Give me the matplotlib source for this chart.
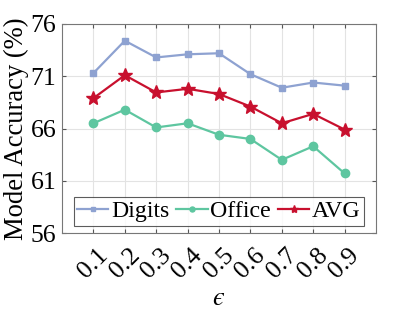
import matplotlib
matplotlib.use("Agg")
import matplotlib.pyplot as plt

plt.rcParams['font.family'] = ['Liberation Serif', 'DejaVu Serif']
plt.rcParams['mathtext.fontset'] = 'stix'

eps = [0.1, 0.2, 0.3, 0.4, 0.5, 0.6, 0.7, 0.8, 0.9]
tick_labels = ['0.1', '0.2', '0.3', '0.4', '0.5', '0.6', '0.7', '0.8', '0.9']
digits = [71.3, 74.4, 72.8, 73.1, 73.2, 71.2, 69.9, 70.4, 70.1]
office = [66.5, 67.8, 66.1, 66.5, 65.4, 65.0, 63.0, 64.3, 61.7]
avg = [68.9, 71.1, 69.45, 69.8, 69.3, 68.1, 66.5, 67.4, 65.9]
yticks = [56, 61, 66, 71, 76]

fig = plt.figure(figsize=(4.15, 3.12), dpi=100)
ax = fig.add_axes([62/415, 1-233/312, (376-62)/415, (233-24)/312])

ax.plot(eps, digits, color='#8ea2d1', marker='s', markersize=5, linewidth=1.6, label='Digits')
ax.plot(eps, office, color='#5ec6a0', marker='o', markersize=6, linewidth=1.6, label='Office')
ax.plot(eps, avg, color='#c8102e', marker='*', markersize=10, linewidth=1.6, label='AVG')

ax.set_xlim(0, 1.0)
ax.set_ylim(56, 76)
ax.set_xticks(eps)
ax.set_xticklabels(tick_labels, rotation=45, fontsize=18.5)
ax.set_yticks(yticks)
ax.set_yticklabels([str(v) for v in yticks], fontsize=18.5)
ax.tick_params(direction='in', length=3, top=True, right=True, color='#555555', pad=4)
ax.tick_params(axis='x', pad=8)
ax.grid(True, color='#e3e3e3', linewidth=0.8)
ax.set_axisbelow(True)
for s in ax.spines.values():
    s.set_color('#777777')
    s.set_linewidth(0.8)

ax.set_ylabel('Model Accuracy (%)', fontsize=19.2, labelpad=1)
ax.set_xlabel(r'$\mathit{\u03f5}$'.replace(r'\u03f5', '\u03f5'), fontsize=19, labelpad=4)

leg = ax.legend(loc='lower center', ncol=3, fontsize=17.2, frameon=True, fancybox=False,
                edgecolor='#333333', handlelength=1.3, handletextpad=0.12, columnspacing=0.3,
                borderpad=0.15, borderaxespad=0.3, markerscale=0.6)
leg.get_frame().set_linewidth(0.8)

fig.savefig('out.png', dpi=100)
